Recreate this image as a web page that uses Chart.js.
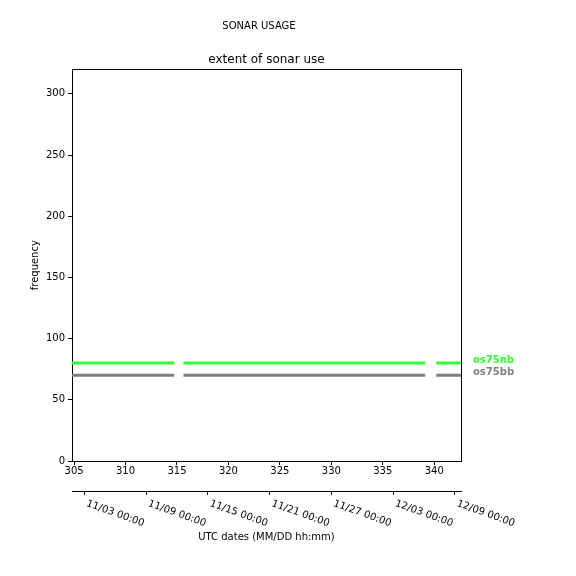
<!DOCTYPE html>
<html>
<head>
<meta charset="utf-8">
<script src="https://cdn.jsdelivr.net/npm/chart.js@4/dist/chart.umd.min.js"></script>
<style>
  html, body { margin: 0; padding: 0; background: #fff; }
  #wrap { width: 576px; height: 576px; }
</style>
</head>
<body>
<div id="wrap"><canvas id="sonarChart" width="576" height="576"></canvas></div>
<script>
// sonar time coverage, decimal day of year
const segStarts = [304.8, 315.63, 340.19];
const segEnds = [314.72, 339.12, 342.6];
const instruments = ['os75nb', 'os75bb'];
const frequencies = [80, 70];
const colors = ['#33ff33', '#808080'];
const dateTicks = [306, 312, 318, 324, 330, 336, 342];
const dateLabels = ['11/03 00:00', '11/09 00:00', '11/15 00:00', '11/21 00:00', '11/27 00:00', '12/03 00:00', '12/09 00:00'];

const FONT = 'DejaVu Sans';
Chart.defaults.font.family = FONT;
Chart.defaults.font.size = 10;
Chart.defaults.color = '#000';

function segmentPoints(freq) {
    const pts = [];
    segStarts.forEach((s, i) => {
        pts.push({ x: s, y: freq });
        pts.push({ x: segEnds[i], y: freq });
        pts.push({ x: segEnds[i], y: null });
    });
    return pts;
}

const datasets = instruments.map((name, i) => ({
    label: name,
    data: segmentPoints(frequencies[i]),
    borderColor: colors[i],
    borderWidth: 3,
    pointRadius: 0,
    spanGaps: false,
    fill: false
}));

// rotated date labels and instrument names
const extras = {
    id: 'extras',
    afterDraw(chart) {
        const ctx = chart.ctx;
        const x2 = chart.scales.x2;
        const y = chart.scales.y;
        const area = chart.chartArea;
        ctx.save();
        ctx.fillStyle = '#000';
        ctx.font = '10px "' + FONT + '"';
        const ang = 20 * Math.PI / 180;
        dateTicks.forEach((t, i) => {
            const px = x2.getPixelForValue(t);
            ctx.save();
            ctx.translate(px + 12 * Math.sin(ang), x2.top + 7.5);
            ctx.rotate(ang);
            ctx.textAlign = 'left';
            ctx.textBaseline = 'top';
            ctx.fillText(dateLabels[i], 0, 0);
            ctx.restore();
        });
        ctx.font = 'bold 10px "' + FONT + '"';
        ctx.textAlign = 'left';
        ctx.textBaseline = 'middle';
        instruments.forEach((name, i) => {
            ctx.fillStyle = colors[i];
            ctx.fillText(name, area.right + 12, y.getPixelForValue(frequencies[i]) - 3);
        });
        ctx.restore();
    }
};

new Chart(document.getElementById('sonarChart'), {
    type: 'line',
    data: { datasets },
    options: {
        responsive: false,
        animation: false,
        layout: { padding: { left: 0, right: 58, top: 0, bottom: 0 } },
        plugins: {
            legend: { display: false },
            tooltip: { enabled: false },
            title: {
                display: true,
                text: 'SONAR USAGE',
                font: { size: 10, weight: 'normal' },
                padding: { top: 20, bottom: 21 }
            },
            subtitle: {
                display: true,
                text: 'extent of sonar use',
                color: '#000',
                fullSize: false,
                font: { size: 12 },
                padding: { top: 0, bottom: 2 }
            }
        },
        scales: {
            x: {
                type: 'linear',
                position: 'bottom',
                min: 304.8,
                max: 342.6,
                afterBuildTicks(scale) {
                    scale.ticks = [305, 310, 315, 320, 325, 330, 335, 340].map(v => ({ value: v }));
                },
                ticks: { padding: 0, maxRotation: 0, autoSkip: false },
                grid: { drawOnChartArea: false, tickLength: 4, color: '#000' },
                border: { color: '#000', width: 1 },
                afterFit(scale) { scale.height = 30; }
            },
            x2: {
                type: 'linear',
                position: 'bottom',
                min: 304.8,
                max: 342.6,
                afterBuildTicks(scale) {
                    scale.ticks = dateTicks.map(v => ({ value: v }));
                },
                ticks: { display: false },
                grid: { drawOnChartArea: false, tickLength: 4, color: '#000' },
                border: { color: '#000', width: 1 },
                title: {
                    display: true,
                    text: 'UTC dates (MM/DD hh:mm)',
                    font: { size: 10 },
                    padding: 33
                },
                afterFit(scale) { scale.height = 85; }
            },
            xTop: {
                type: 'linear',
                position: 'top',
                min: 304.8,
                max: 342.6,
                ticks: { display: false },
                grid: { display: false, drawTicks: false },
                border: { display: true, color: '#000', width: 1 },
                afterFit(scale) { scale.height = 0; }
            },
            y: {
                type: 'linear',
                position: 'left',
                min: 0,
                max: 320,
                afterBuildTicks(scale) {
                    scale.ticks = [0, 50, 100, 150, 200, 250, 300].map(v => ({ value: v }));
                },
                ticks: { padding: 3 },
                grid: { drawOnChartArea: false, tickLength: 4, color: '#000' },
                border: { color: '#000', width: 1 },
                title: {
                    display: true,
                    text: 'frequency',
                    font: { size: 10 },
                    padding: 29
                },
                afterFit(scale) { scale.width = 72; }
            },
            yRight: {
                type: 'linear',
                position: 'right',
                min: 0,
                max: 320,
                ticks: { display: false },
                grid: { display: false, drawTicks: false },
                border: { display: true, color: '#000', width: 1 },
                afterFit(scale) { scale.width = 57; }
            }
        }
    },
    plugins: [extras]
});
</script>
</body>
</html>
